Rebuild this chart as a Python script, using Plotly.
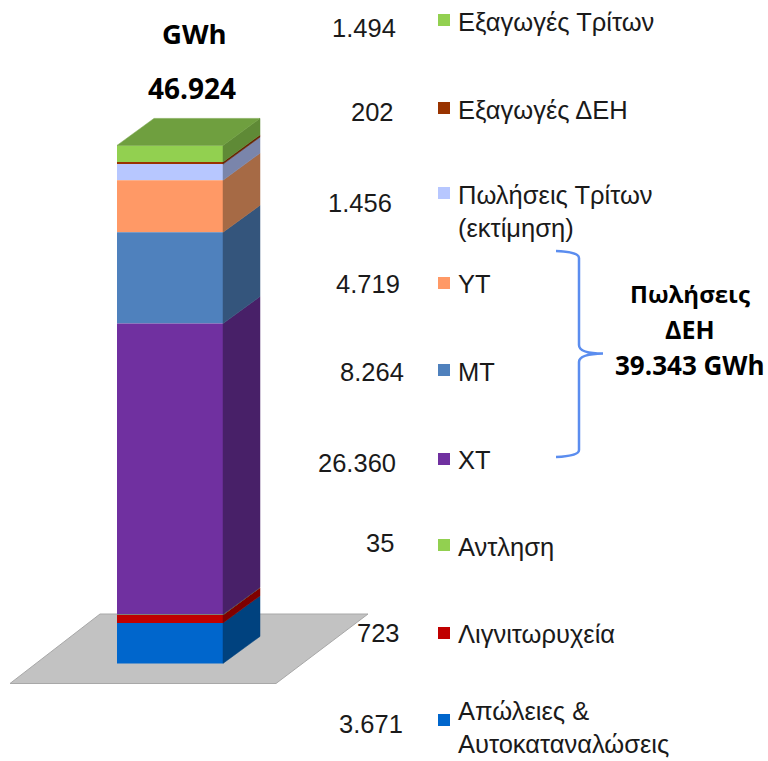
import plotly.graph_objects as go

# Data, bottom of the stack first
categories = ["Απώλειες &<br>Αυτοκαταναλώσεις", "Λιγνιτωρυχεία", "Αντληση", "ΧΤ", "ΜΤ", "ΥΤ",
              "Πωλήσεις Τρίτων<br>(εκτίμηση)", "Εξαγωγές ΔΕΗ", "Εξαγωγές Τρίτων"]
values = [3671, 723, 35, 26360, 8264, 4719, 1456, 202, 1494]
value_labels = ["3.671", "723", "35", "26.360", "8.264", "4.719", "1.456", "202", "1.494"]
front_colors = ["#0066CC", "#C00000", "#92D050", "#7030A0", "#4F81BD", "#FF9966", "#B7C7FF", "#993300", "#92D050"]
side_colors = ["#00427F", "#7F0000", "#5F8A36", "#482068", "#34557C", "#A66A45", "#7A85AB", "#662200", "#5F8A36"]
total_label = "46.924"
top_color = "#6F9F3F"

# Layout (pixels)
W, H = 768, 761
BASE_PX = 663.4
TOP_PX = 145.4
LEFT_PX, RIGHT_PX = 117, 223
DX, DY = 37, 27
total = sum(values)
k = (BASE_PX - TOP_PX) / total            # pixels per GWh
dy = DY / k
def py(px):
    return (BASE_PX - px) / k

# Label positions (pixels), bottom first
value_x = [371, 378, 380, 357, 372, 368, 360, 372, 364]
value_y = [724, 633, 543, 463, 372, 284, 203, 112, 28]
label_y = [727, 634, 547, 460, 372, 284, 211, 110, 22]
square_y = [720, 633, 545, 459, 370, 283, 193, 108, 20]

fig = go.Figure()
bottoms = []
b = 0
for v in values:
    bottoms.append(b)
    b += v

# thinnest layers first, so their neighbours sit on top of them
draw_order = sorted(range(len(values)), key=lambda i: values[i])
for i in draw_order:
    fig.add_trace(go.Bar(x=[(LEFT_PX + RIGHT_PX) / 2], y=[values[i]], base=[bottoms[i]], width=RIGHT_PX - LEFT_PX,
                         marker=dict(color=front_colors[i], line=dict(width=0)), name=categories[i],
                         showlegend=False))

for i, v in enumerate(values):
    bt, tp = bottoms[i], bottoms[i] + v
    fig.add_trace(go.Scatter(x=[RIGHT_PX, RIGHT_PX + DX, RIGHT_PX + DX, RIGHT_PX, RIGHT_PX],
                             y=[bt, bt + dy, tp + dy, tp, bt], mode="lines", fill="toself",
                             fillcolor=side_colors[i], line=dict(width=0.5, color=side_colors[i]),
                             showlegend=False, hoverinfo="skip"))

fig.add_trace(go.Scatter(x=[LEFT_PX, RIGHT_PX, RIGHT_PX + DX, LEFT_PX + DX, LEFT_PX],
                         y=[total, total, total + dy, total + dy, total], mode="lines", fill="toself",
                         fillcolor=top_color, line=dict(width=0.5, color=top_color),
                         showlegend=False, hoverinfo="skip"))

# Legend squares
fig.add_trace(go.Scatter(x=[444] * len(values), y=[py(s) for s in square_y], mode="markers",
                         marker=dict(symbol="square", size=12, color=front_colors, line=dict(width=0)),
                         showlegend=False, hoverinfo="skip"))

shapes = [
    dict(type="path", layer="below", xref="x", yref="y",
         path=f"M 10 {py(683.5)} L 276 {py(683.5)} L 368 {py(614)} L 100 {py(614)} Z",
         fillcolor="#C2C2C2", line=dict(color="#A8A8A8", width=1)),
    dict(type="path", xref="x", yref="y", fillcolor="rgba(0,0,0,0)",
         line=dict(color="#5B8DEF", width=2.5),
         path=(f"M 556 {py(251)} Q 579 {py(252)} 579 {py(258)} L 579 {py(345)} "
               f"Q 579 {py(353.5)} 603 {py(353.5)} Q 579 {py(354)} 579 {py(362)} "
               f"L 579 {py(450)} Q 579 {py(456)} 556 {py(457)}")),
]

ann = []
def text(x, y, s, size, font="Liberation Sans", color="#1A1A1A", anchor="center", bold=False):
    ann.append(dict(x=x, y=py(y), xref="x", yref="y", text=f"<b>{s}</b>" if bold else s,
                    showarrow=False, xanchor=anchor, yanchor="middle", align=anchor,
                    font=dict(family=font, size=size, color=color)))

for i in range(len(values)):
    text(value_x[i], value_y[i], value_labels[i], 25.5)
    text(456, label_y[i], categories[i], 25.5, anchor="left")

B = "Open Sans"
text(194, 33, "GWh", 27.5, font=B, color="#000000", bold=True)
text(192, 88, total_label, 28, font=B, color="#000000", bold=True)
text(690, 293, "Πωλήσεις", 24, font=B, color="#000000", bold=True)
text(690, 329, "ΔΕΗ", 25, font=B, color="#000000", bold=True)
text(690, 365, "39.343 GWh", 26, font=B, color="#000000", bold=True)

fig.update_layout(
    width=W, height=H, margin=dict(l=0, r=0, t=0, b=0),
    paper_bgcolor="white", plot_bgcolor="white", barmode="overlay", shapes=shapes, annotations=ann,
    xaxis=dict(range=[0, W], visible=False, fixedrange=True),
    yaxis=dict(range=[py(H), py(0)], visible=False, fixedrange=True),
)
fig.write_html("out.html", config=dict(displayModeBar=False), post_script="document.body.style.margin='0';")
